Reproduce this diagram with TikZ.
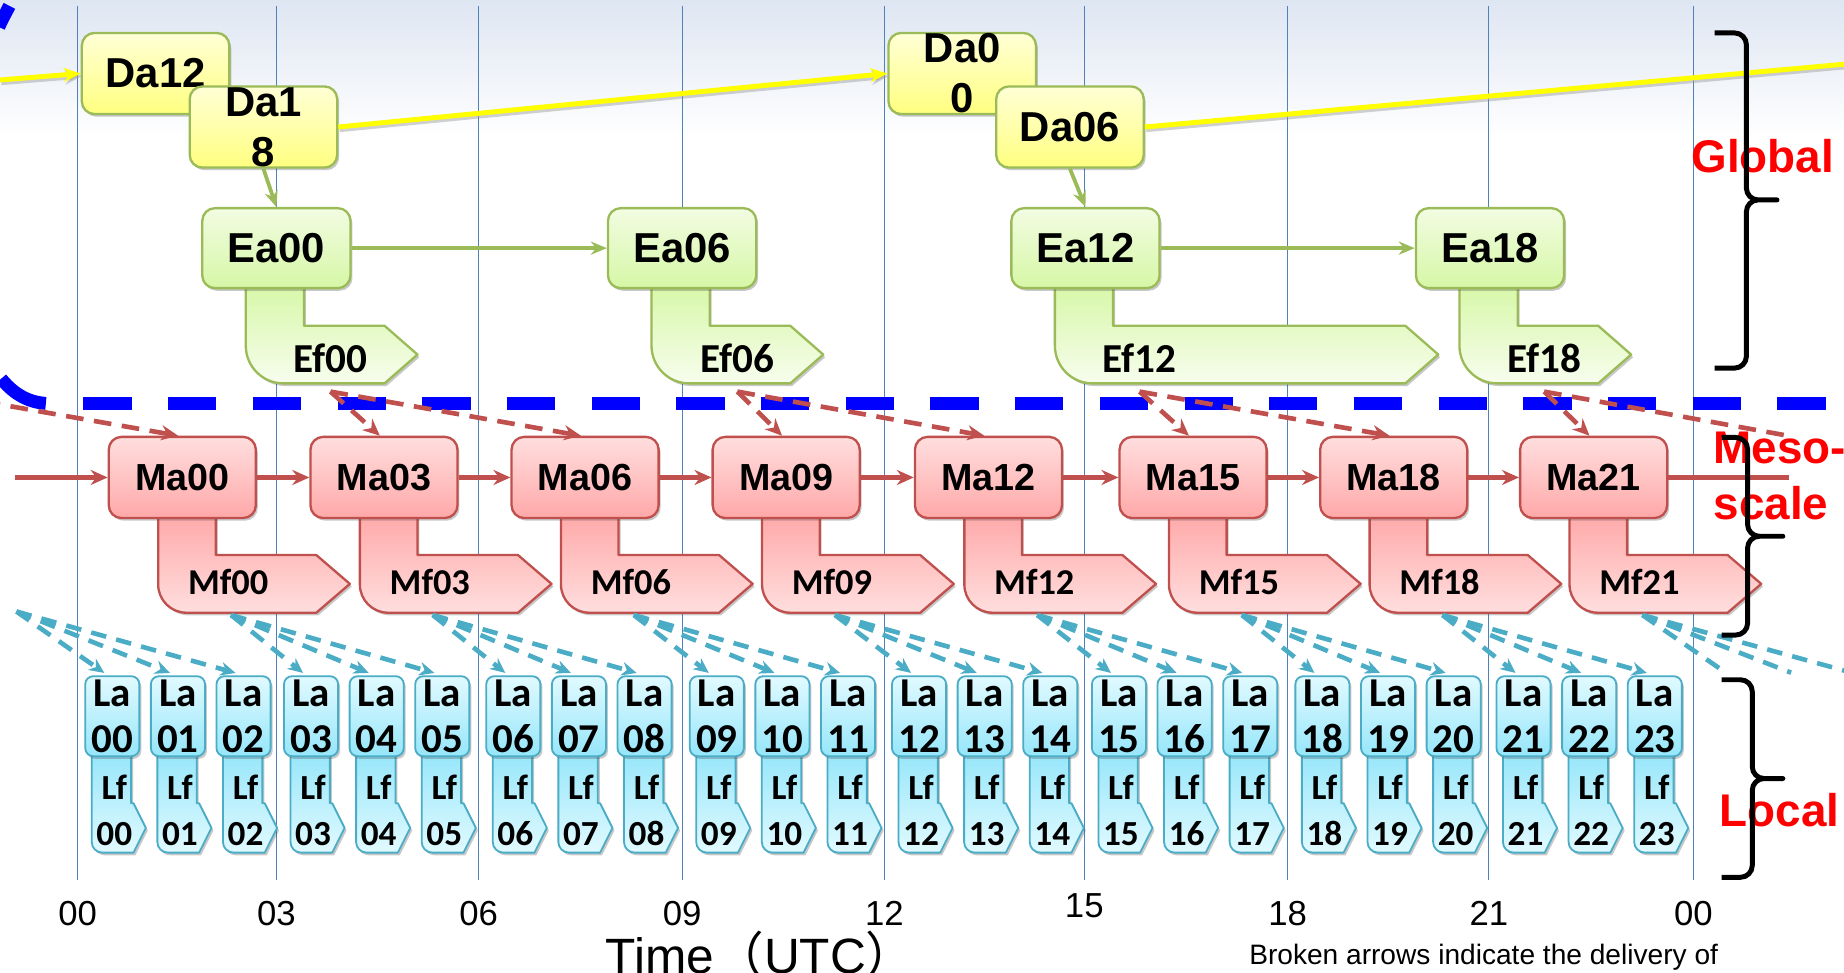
\documentclass[tikz,border=0pt]{standalone}
\usepackage{fontspec}
\setmainfont{Liberation Sans}
\newfontfamily\calfont{Carlito}
\newfontfamily\cjkfont{Noto Sans CJK JP}
\usetikzlibrary{arrows.meta,shadows,calc}
\definecolor{gridblue}{RGB}{79,129,189}
\definecolor{ggreen}{RGB}{155,187,89}
\definecolor{rred}{RGB}{192,80,77}
\definecolor{ccyan}{RGB}{75,172,198}
\definecolor{bgtop}{RGB}{222,230,242}
\definecolor{daT}{RGB}{255,255,214}
\definecolor{daB}{RGB}{255,255,128}
\definecolor{eaT}{RGB}{242,252,226}
\definecolor{eaB}{RGB}{214,247,166}
\definecolor{maT}{RGB}{255,222,222}
\definecolor{maB}{RGB}{255,168,168}
\definecolor{laT}{RGB}{225,250,255}
\definecolor{laB}{RGB}{150,230,250}
\definecolor{yel}{RGB}{255,255,0}
\newcommand{\bentarr}[9]{%
  \draw[#9] (#1,#5) -- (#2,#5) -- (#2,#6) -- (#3,#6) -- (#4,{(#6+#7)/2}) -- (#3,#7)
    -- ({#1+#8},#7) .. controls ({#1+0.448*#8},#7) and (#1,{#7-0.448*#8}) .. (#1,{#7-#8}) -- cycle;}
\newcommand{\mybrace}[6]{%
  \draw[bracestyle] (#1,#4) -- ({#2-10},#4) .. controls ({#2-4.5},#4) and (#2,{#4+4.5}) .. (#2,{#4+10})
   -- (#2,{#5-10}) .. controls (#2,{#5-4.5}) and ({#2+4.5},#5) .. ({#2+10},#5) -- (#3,#5) -- ({#2+10},#5)
   .. controls ({#2+4.5},#5) and (#2,{#5+4.5}) .. (#2,{#5+10}) -- (#2,{#6-10})
   .. controls (#2,{#6-4.5}) and ({#2-4.5},#6) .. ({#2-10},#6) -- (#1,#6);}
\tikzset{
  shad/.style={drop shadow={shadow xshift=1.2pt,shadow yshift=-1.6pt,opacity=0.3,fill=black!70}},
  dabox/.style={draw=ggreen,line width=1.4pt,rounded corners=0.27cm,top color=daT,bottom color=daB,
     minimum width=3.135cm,minimum height=1.725cm,inner sep=0pt,align=center,shad,
     font=\fontsize{25.3}{30.3}\selectfont\bfseries},
  eabox/.style={dabox,top color=eaT,bottom color=eaB,minimum width=3.15cm,minimum height=1.7cm},
  efshape/.style={draw=ggreen,line width=1.4pt,top color=eaB,bottom color=eaT!60!white,shad,line join=round},
  eftext/.style={inner sep=0pt,font=\calfont\fontsize{24.9}{28}\selectfont\bfseries},
  mabox/.style={draw=rred,line width=1.4pt,rounded corners=0.27cm,top color=maT,bottom color=maB,
     minimum width=3.125cm,minimum height=1.725cm,inner sep=0pt,shad,
     font=\fontsize{22.8}{27}\selectfont\bfseries},
  mfshape/.style={draw=rred,line width=1.4pt,top color=maB,bottom color=maT,shad,line join=round},
  mftext/.style={inner sep=0pt,font=\calfont\fontsize{22}{26}\selectfont\bfseries},
  labox/.style={draw=ccyan,line width=1.1pt,rounded corners=0.17cm,top color=laT,bottom color=laB,
     minimum width=1.15cm,minimum height=1.7cm,inner sep=0pt,align=center,shad,
     font=\calfont\fontsize{24.8}{27.4}\selectfont\bfseries},
  lfshape/.style={draw=ccyan,line width=1.1pt,top color=laB,bottom color=laT,shad,line join=round},
  lftext/.style={inner sep=0pt,align=center,font=\calfont\fontsize{21.3}{27.7}\selectfont\bfseries},
  gridline/.style={draw=gridblue,line width=0.7pt},
  axislbl/.style={inner sep=0pt,font=\fontsize{21}{24}\selectfont},
  redlbl/.style={inner sep=0pt,text=red,font=\fontsize{27.7}{32}\selectfont\bfseries},
  lshadow/.style={preaction={draw=black!40,opacity=0.45,line width=3pt,transform canvas={xshift=0.8pt,yshift=-1.6pt}}},
  yelarrow/.style={draw=yel,line width=3pt,lshadow},
  ytip/.style={-{Stealth[length=0.36cm,width=0.3cm]}},
  garrow/.style={draw=ggreen,line width=2.3pt,-{Stealth[length=0.34cm,width=0.28cm]}},
  rline/.style={draw=rred,line width=2.6pt},
  rtip/.style={-{Stealth[length=0.36cm,width=0.32cm]}},
  rdash/.style={draw=rred,line width=2.8pt,dash pattern=on 0.375cm off 0.225cm},
  cdash/.style={draw=ccyan,line width=2.8pt,dash pattern=on 0.33cm off 0.22cm},
  ctip/.style={-{Stealth[length=0.32cm,width=0.29cm]}},
  bluedash/.style={draw=blue,line width=7.8pt,dash pattern=on 1.025cm off 0.775cm},
  bluesolid/.style={draw=blue,line width=7.8pt},
  bracestyle/.style={draw=black,line width=3pt,line join=round}
}
\begin{document}
\begin{tikzpicture}[x=0.025cm,y=-0.025cm]
\useasboundingbox (0,0) rectangle (1568,827);
\fill[white] (0,0) rectangle (1568,827);
\shade[top color=bgtop,bottom color=white] (0,0) rectangle (1568,118);

% grid lines and axis labels
\foreach \gx in {66,235,407,580,752,922,1095,1266,1440}
  \draw[gridline] (\gx,5) -- (\gx,748);
\foreach \gx/\lab/\ly/\nm in {66/00/777/a0,235/03/777/a1,407/06/777/a2,580/09/777/a3,752/12/777/a4,922/15/770/a5,1095/18/777/a6,1266/21/777/a7,1440/00/777/a8}
  \node[axislbl] (\nm) at (\gx,\ly) {\lab};
\node[inner sep=0pt,anchor=base west,font=\fontsize{30}{33}\selectfont] (timelbl) at (515,828) {Time{\cjkfont （}UTC{\cjkfont ）}};
\node[inner sep=0pt,anchor=base west,font=\fontsize{17}{20}\selectfont] (note) at (1062,820) {Broken arrows indicate the delivery of};

% blue dashed separator
\draw[bluedash] (71,343) -- (1600,343);
\draw[bluesolid] (1,322) .. controls (10,333) and (22,342) .. (39,343);
\draw[bluesolid] (8,5) .. controls (5,11) and (2,16) .. (-1,23);

% ---------- Global ----------
\bentarr{209}{258.5}{327}{355}{240}{277}{326}{32}{efshape}
\bentarr{554}{603.5}{672}{700}{240}{277}{326}{32}{efshape}
\bentarr{897}{946.5}{1195}{1223}{240}{277}{326}{32}{efshape}
\bentarr{1241}{1290.5}{1359}{1387}{240}{277}{326}{32}{efshape}
\node[eftext] (ef0) at (281,305) {Ef00};
\node[eftext] (ef1) at (627,305) {Ef06};
\node[eftext] (ef2) at (969,305) {Ef12};
\node[eftext] (ef3) at (1313,305) {Ef18};
\node[eabox] (ea0) at (235,211) {Ea00};
\node[eabox] (ea1) at (580,211) {Ea06};
\node[eabox] (ea2) at (923,211) {Ea12};
\node[eabox] (ea3) at (1267,211) {Ea18};

\node[dabox] (da12) at (132.3,62.5) {Da12};
\node[dabox] (da18) at (224,108) {Da1\\8};
\node[dabox] (da00) at (818.2,62.5) {Da0\\0};
\node[dabox] (da06) at (909.8,108) {Da06};

\coordinate (yin) at (0,68);
\coordinate (yout) at (1575,54);
\draw[yelarrow,ytip] (yin) -- (da12.west);
\draw[yelarrow,ytip] (da18.east) -- (da00.west);
\draw[yelarrow] (da06.east) -- (yout);

\draw[garrow] (da18.south) -- (ea0.north);
\draw[garrow] (da06.south) -- (ea2.north);
\draw[garrow] (ea0.east) -- (ea1.west);
\draw[garrow] (ea2.east) -- (ea3.west);

\coordinate (efs0) at (281,333);
\coordinate (efs1) at (627,333);
\coordinate (efs2) at (969,333);
\coordinate (efs3) at (1313,333);

% ---------- Mesoscale ----------
\foreach \j/\L/\lab in {0/92.5/00,1/264/03,2/435/06,3/606/09,4/778/12,5/952/15,6/1122.6/18,7/1292.6/21}{
  \bentarr{\L+42}{\L+91}{\L+176.5}{\L+205}{436}{472}{521}{24}{mfshape}
  \node[mftext] (mf\j) at (\L+101.5,495) {Mf\lab};
  \node[mabox] (ma\j) at (\L+62.5,406) {Ma\lab};
  \coordinate (mfs\j) at (\L+104,523);
}
\coordinate (rin) at (13,406);
\coordinate (rout) at (1521,406);
\draw[rline,rtip] (rin) -- (ma0.west);
\foreach \a/\b in {0/1,1/2,2/3,3/4,4/5,5/6,6/7}
  \draw[rline,rtip] (ma\a.east) -- (ma\b.west);
\draw[rline] (ma7.east) -- (rout);

% ---------- Local ----------
\def\gridarr{{66,235,407,580,752,922,1095,1266,1440}}
\foreach \k/\lab in {0/00,1/01,2/02,3/03,4/04,5/05,6/06,7/07,8/08,9/09,10/10,11/11,12/12,13/13,14/14,15/15,16/16,17/17,18/18,19/19,20/20,21/21,22/22,23/23}{
  \pgfmathtruncatemacro\blk{\k/3}
  \pgfmathsetmacro\lx{\gridarr[\blk]+6.5+55.8*mod(\k,3)}
  \bentarr{\lx+5.5}{\lx+39}{\lx+41}{\lx+51.5}{640}{683}{725}{9}{lfshape}
  \node[lftext] (lf\k) at (\lx+24.7,689) {Lf\\\lab};
  \node[labox] (la\k) at (\lx+23,609) {La\\\lab};
}

% red dashed deliveries (global -> meso)
\coordinate (rdin) at (-62,333);
\coordinate (rdout) at (1523,371);
\draw[rdash,rtip] (rdin) -- ($(ma0.north west)+(60,0)$);
\draw[rdash,rtip] (efs0) -- ($(ma1.north west)+(60,0)$);
\draw[rdash,rtip] (efs0) -- ($(ma2.north west)+(60,0)$);
\draw[rdash,rtip] (efs1) -- ($(ma3.north west)+(60,0)$);
\draw[rdash,rtip] (efs1) -- ($(ma4.north west)+(60,0)$);
\draw[rdash,rtip] (efs2) -- ($(ma5.north west)+(60,0)$);
\draw[rdash,rtip] (efs2) -- ($(ma6.north west)+(60,0)$);
\draw[rdash,rtip] (efs3) -- ($(ma7.north west)+(60,0)$);
\draw[rdash] (efs3) -- (rdout);

% cyan dashed deliveries (meso -> local)
\coordinate (cin) at (14,520);
\foreach \k in {0,1,2}
  \draw[cdash,ctip] (cin) -- ($(la\k.north west)+(17,-2)$);
\foreach \j in {0,...,6}{
  \foreach \m in {3,4,5}{
    \pgfmathtruncatemacro\tgt{3*\j+\m}
    \draw[cdash,ctip] (mfs\j) -- ($(la\tgt.north west)+(17,-2)$);
  }
}
\coordinate (cout1) at (1466,571);
\coordinate (cout2) at (1523,572);
\coordinate (cout3) at (1582,574);
\draw[cdash] (mfs7) -- (cout1);
\draw[cdash] (mfs7) -- (cout2);
\draw[cdash] (mfs7) -- (cout3);

% ---------- labels and braces ----------
\node[redlbl,anchor=base west] (glbl) at (1438,147) {Global};
\node[redlbl,anchor=base west] (mlbl1) at (1457,394) {Meso-};
\node[redlbl,anchor=base west] (mlbl2) at (1457,442) {scale};
\node[redlbl,anchor=base west] (llbl) at (1462,703) {Local};
\mybrace{1458}{1485}{1511}{28}{170}{313}
\mybrace{1464}{1486}{1516}{372}{456}{540}
\mybrace{1464}{1490}{1516}{578}{662}{746}
\end{tikzpicture}
\end{document}
